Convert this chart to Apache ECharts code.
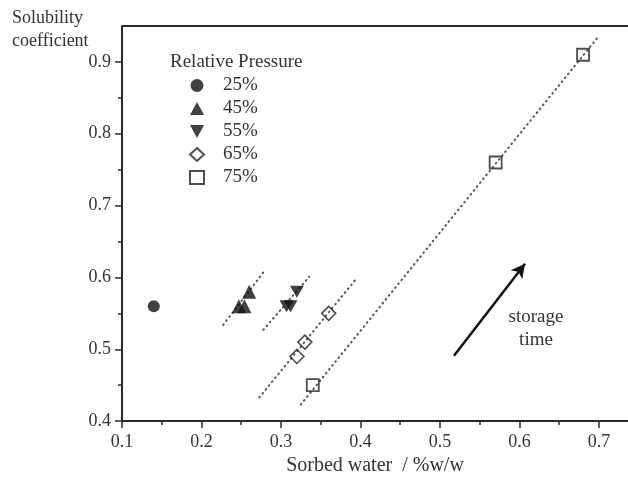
<!DOCTYPE html>
<html>
<head>
<meta charset="utf-8">
<script src="https://cdn.jsdelivr.net/npm/echarts@6/dist/echarts.min.js"></script>
<style>
html,body{margin:0;padding:0;background:#fff;}
#chart{width:628px;height:481px;}
</style>
</head>
<body>
<div id="chart"></div>
<script>
// ---- data ----
const xMajorTicks = [0.1, 0.2, 0.3, 0.4, 0.5, 0.6, 0.7];
const xMinorTicks = [0.15, 0.25, 0.35, 0.45, 0.55, 0.65];
const yMajorTicks = [0.4, 0.5, 0.6, 0.7, 0.8, 0.9];
const yMinorTicks = [0.45, 0.55, 0.65, 0.75, 0.85];

const rp25 = [[0.14, 0.56]];
const rp45 = [[0.247, 0.56], [0.254, 0.56], [0.26, 0.58]];
const rp55 = [[0.307, 0.56], [0.312, 0.56], [0.32, 0.58]];
const rp65 = [[0.32, 0.49], [0.33, 0.51], [0.36, 0.55]];
const rp75 = [[0.34, 0.45], [0.57, 0.76], [0.68, 0.91]];

const fit45 = [[0.2274, 0.534], [0.2792, 0.609]];
const fit55 = [[0.2778, 0.527], [0.3355, 0.601]];
const fit65 = [[0.2727, 0.433], [0.3931, 0.596]];
const fit75 = [[0.3249, 0.423], [0.6991, 0.935]];

const storageArrow = [[0.5176, 0.491], [0.607, 0.619]];

const seriesNames = ['25%', '45%', '55%', '65%', '75%'];

// ---- chart ----
const FONT = 'Liberation Serif';
const AX = '#2b2b2b';
const TXT = '#333';
const X_MIN = 0.1, X_MAX = 0.7365, Y_MIN = 0.4, Y_MAX = 0.95;

const chart = echarts.init(document.getElementById('chart'), null, {renderer: 'canvas'});

function dotted(data) {
  return {
    type: 'line', data: data, symbol: 'none', silent: true,
    lineStyle: {color: '#555', width: 2, type: [0.8, 4.2], cap: 'round'},
    z: 1
  };
}

const downTri = 'path://M0,0 L12,0 L6,11 Z';

const option = {
  backgroundColor: '#fff',
  animation: false,
  grid: {left: 122, top: 26, right: 0, bottom: 54, show: false},
  xAxis: [{
    type: 'value', min: X_MIN, max: X_MAX, position: 'bottom',
    name: 'Sorbed water  / %w/w', nameLocation: 'middle', nameGap: 34,
    nameTextStyle: {fontFamily: FONT, fontSize: 20, color: TXT},
    axisLine: {show: true, lineStyle: {color: AX, width: 2}},
    axisTick: {show: true, inside: false, length: 7, lineStyle: {color: AX, width: 1.5}, customValues: xMajorTicks},
    axisLabel: {fontFamily: FONT, fontSize: 18, color: TXT, margin: 12, customValues: xMajorTicks,
      formatter: v => v.toFixed(1)},
    splitLine: {show: false}
  }, {
    type: 'value', min: X_MIN, max: X_MAX, position: 'bottom',
    axisLine: {show: false},
    axisTick: {show: true, inside: false, length: 4, lineStyle: {color: AX, width: 1.5}, customValues: xMinorTicks},
    axisLabel: {show: false},
    splitLine: {show: false}
  }, {
    type: 'value', min: X_MIN, max: X_MAX, position: 'top',
    axisLine: {show: true, lineStyle: {color: AX, width: 2}},
    axisTick: {show: false},
    axisLabel: {show: false},
    splitLine: {show: false}
  }],
  yAxis: [{
    type: 'value', min: Y_MIN, max: Y_MAX, position: 'left',
    axisLine: {show: true, lineStyle: {color: AX, width: 2}},
    axisTick: {show: true, inside: false, length: 7, lineStyle: {color: AX, width: 1.5}, customValues: yMajorTicks},
    axisLabel: {fontFamily: FONT, fontSize: 18, color: TXT, margin: 11, customValues: yMajorTicks,
      formatter: v => v.toFixed(1)},
    splitLine: {show: false}
  }, {
    type: 'value', min: Y_MIN, max: Y_MAX, position: 'left',
    axisLine: {show: false},
    axisTick: {show: true, inside: false, length: 4, lineStyle: {color: AX, width: 1.5}, customValues: yMinorTicks},
    axisLabel: {show: false},
    splitLine: {show: false}
  }],
  legend: {
    data: seriesNames,
    orient: 'vertical',
    left: 184, top: 71,
    itemWidth: 14, itemHeight: 13, itemGap: 4,
    textStyle: {fontFamily: FONT, fontSize: 19, color: TXT, padding: [0, 0, 0, 14]},
    selectedMode: false
  },
  graphic: [
    {type: 'text', left: 12, top: 7, style: {text: 'Solubility\ncoefficient', font: '18px "Liberation Serif"', fill: TXT, lineHeight: 23}},
    {type: 'text', left: 170, top: 53, style: {text: 'Relative Pressure', font: '19px "Liberation Serif"', fill: TXT}},
    {type: 'text', x: 536, y: 306, style: {text: 'storage\ntime', font: '19px "Liberation Serif"', fill: TXT, align: 'center', lineHeight: 23}}
  ],
  series: [
    dotted(fit45), dotted(fit55), dotted(fit65), dotted(fit75),
    {
      name: 'arrow', type: 'line', data: [], silent: true,
      markLine: {
        silent: true, symbol: ['none', 'arrow'], symbolSize: [11, 14], label: {show: false},
        lineStyle: {color: '#111', width: 2.5, type: 'solid'},
        data: [[{coord: storageArrow[0]}, {coord: storageArrow[1]}]]
      }
    },
    {name: '25%', type: 'scatter', data: rp25, symbol: 'circle', symbolSize: 12,
      itemStyle: {color: '#111'}, z: 3},
    {name: '45%', type: 'scatter', data: rp45, symbol: 'triangle', symbolSize: 14,
      itemStyle: {color: '#111'}, z: 3},
    {name: '55%', type: 'scatter', data: rp55, symbol: downTri, symbolSize: [14, 12],
      itemStyle: {color: '#111'}, z: 3},
    {name: '65%', type: 'scatter', data: rp65, symbol: 'diamond', symbolSize: 14,
      itemStyle: {color: 'rgba(255,255,255,0)', borderColor: '#222', borderWidth: 1.6}, z: 3},
    {name: '75%', type: 'scatter', data: rp75, symbol: 'rect', symbolSize: 12,
      itemStyle: {color: 'rgba(255,255,255,0)', borderColor: '#222', borderWidth: 1.8}, z: 3}
  ]
};
chart.setOption(option);
</script>
</body>
</html>
